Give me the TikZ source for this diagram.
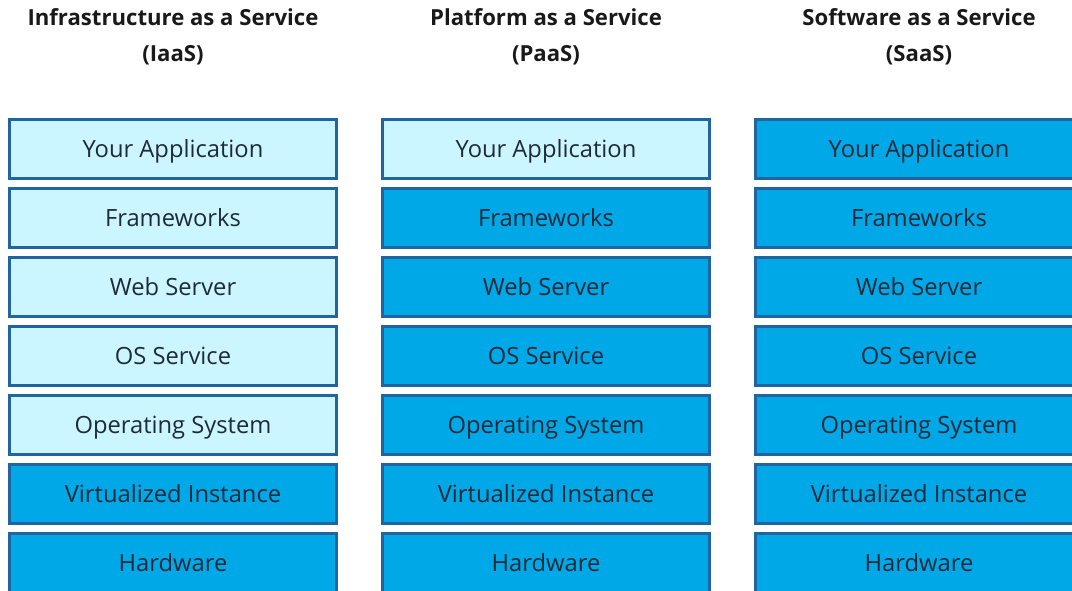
\documentclass[tikz,border=0pt]{standalone}
\usepackage{fontspec}
\setmainfont{Open Sans}

\definecolor{boxline}{RGB}{32,100,160}
\definecolor{boxlite}{RGB}{204,246,255}
\definecolor{boxdark}{RGB}{0,168,232}
\definecolor{boxtext}{RGB}{30,42,56}

\tikzset{
  layer/.style={draw=boxline, line width=2.2pt, minimum width=245.5pt, minimum height=44.5pt,
    inner sep=0pt, text height=16pt, text depth=2.5pt, text=boxtext,
    font=\fontsize{17.8}{20}\selectfont},
  lite/.style={layer, fill=boxlite},
  dark/.style={layer, fill=boxdark},
  heading/.style={align=center, font=\fontsize{16.6}{27}\selectfont\bfseries, text=black!90}
}

\begin{document}
\begin{tikzpicture}[x=0.75pt,y=0.75pt,yscale=-1,xscale=1]
\useasboundingbox (0,0) rectangle (1072,591);
\clip (0,0) rectangle (1072,591);
% Headings
\node[heading] (iaas) at (173,37) {Infrastructure as a Service\\(IaaS)};
\node[heading] (paas) at (546,37) {Platform as a Service\\(PaaS)};
\node[heading] (saas) at (919,37) {Software as a Service\\(SaaS)};
% IaaS stack
\node[lite] (iaas-app) at (173,149) {Your Application};
\node[lite] (iaas-fw) at (173,218) {Frameworks};
\node[lite] (iaas-web) at (173,287) {Web Server};
\node[lite] (iaas-oss) at (173,356) {OS Service};
\node[lite] (iaas-os) at (173,425) {Operating System};
\node[dark] (iaas-vm) at (173,494) {Virtualized Instance};
\node[dark] (iaas-hw) at (173,563) {Hardware};
% PaaS stack
\node[lite] (paas-app) at (546,149) {Your Application};
\node[dark] (paas-fw) at (546,218) {Frameworks};
\node[dark] (paas-web) at (546,287) {Web Server};
\node[dark] (paas-oss) at (546,356) {OS Service};
\node[dark] (paas-os) at (546,425) {Operating System};
\node[dark] (paas-vm) at (546,494) {Virtualized Instance};
\node[dark] (paas-hw) at (546,563) {Hardware};
% SaaS stack
\node[dark] (saas-app) at (919,149) {Your Application};
\node[dark] (saas-fw) at (919,218) {Frameworks};
\node[dark] (saas-web) at (919,287) {Web Server};
\node[dark] (saas-oss) at (919,356) {OS Service};
\node[dark] (saas-os) at (919,425) {Operating System};
\node[dark] (saas-vm) at (919,494) {Virtualized Instance};
\node[dark] (saas-hw) at (919,563) {Hardware};
\end{tikzpicture}
\end{document}
